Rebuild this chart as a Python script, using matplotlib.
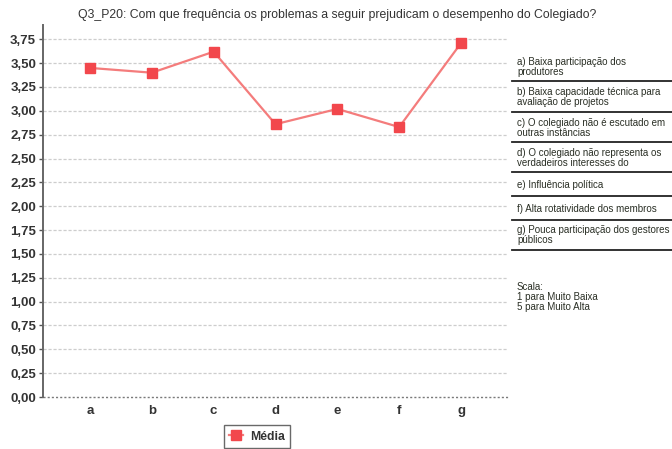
import matplotlib
matplotlib.use("Agg")
import matplotlib.pyplot as plt
from matplotlib.lines import Line2D

plt.rcParams['font.family'] = ['Liberation Sans', 'DejaVu Sans']

categories = ['a', 'b', 'c', 'd', 'e', 'f', 'g']
media = [3.45, 3.40, 3.62, 2.86, 3.02, 2.83, 3.71]
yticks = [0.0, 0.25, 0.5, 0.75, 1.0, 1.25, 1.5, 1.75, 2.0, 2.25, 2.5, 2.75,
          3.0, 3.25, 3.5, 3.75]
ytick_labels = [f"{v:.2f}".replace('.', ',') for v in yticks]

descriptions = [
    "a) Baixa participação dos\nprodutores",
    "b) Baixa capacidade técnica para\navaliação de projetos",
    "c) O colegiado não é escutado em\noutras instâncias",
    "d) O colegiado não representa os\nverdadeiros interesses do",
    "e) Influência política",
    "f) Alta rotatividade dos membros",
    "g) Pouca participação dos gestores\npúblicos",
]
scale_note = "Scala:\n1 para Muito Baixa\n5 para Muito Alta"
title = "Q3_P20: Com que frequência os problemas a seguir prejudicam o desempenho do Colegiado?"

W, H = 672, 449
fig = plt.figure(figsize=(W / 100, H / 100), dpi=100)
ax = fig.add_axes([43 / W, 1 - 397 / H, (508 - 43) / W, (397 - 25) / H])

x = list(range(len(categories)))
ax.plot(x, media, color='#f47c7c', lw=1.6, marker='s', markersize=6.5,
        markerfacecolor='#f2474c', markeredgecolor='#f2474c', label='Média',
        zorder=3)

ax.set_xlim(-0.76, 6.76)
ax.set_ylim(0, 3.9)
ax.set_yticks(yticks)
ax.set_yticklabels(ytick_labels, fontsize=9.5, fontweight='bold', color='#333333')
ax.set_xticks(x)
ax.set_xticklabels(categories, fontsize=9.5, fontweight='bold', color='#333333')
ax.tick_params(axis='x', length=0, pad=6)
ax.tick_params(axis='y', length=3, width=1, color='#555555', pad=2)

for v in yticks[1:]:
    ax.axhline(v, color='#cdcdcd', lw=0.9, ls=(0, (2.5, 1.5)), zorder=1)
ax.axhline(0, color='#7a7a7a', lw=1.0, ls=(0, (1.5, 1.5)), zorder=1, clip_on=False)

for side in ['top', 'right', 'bottom']:
    ax.spines[side].set_visible(False)
ax.spines['left'].set_color('#666666')
ax.spines['left'].set_linewidth(1.4)

fig.text(337 / W, 1 - 15 / H, title, ha='center', va='center',
         fontsize=8.8, color='#333333')

# side annotations with separator rules
text_y = [67, 97, 128, 158, 185, 209, 235]
rule_y = [81, 112, 142, 172, 196, 220, 250]
for desc, ty in zip(descriptions, text_y):
    fig.text(517 / W, 1 - ty / H, desc, ha='left', va='center',
             fontsize=7.0, color='#2a2f25', linespacing=1.1)
for ry in rule_y:
    fig.add_artist(Line2D([512 / W, 1.0], [1 - ry / H, 1 - ry / H],
                          transform=fig.transFigure, color='#222222', lw=1.3))
fig.text(517 / W, 1 - 297 / H, scale_note, ha='left', va='center',
         fontsize=7.0, color='#2a2f25', linespacing=0.95)

leg = fig.legend(loc='upper center', bbox_to_anchor=(257 / W, 1 - 425 / H),
                 fontsize=8.8, frameon=True, fancybox=False, handlelength=1.1,
                 borderpad=0.45, handletextpad=0.6, borderaxespad=0)
leg.get_frame().set_edgecolor('#444444')
leg.get_frame().set_linewidth(1.0)
for t in leg.get_texts():
    t.set_fontweight('bold')
    t.set_color('#333333')

fig.savefig('out.png', dpi=100)
